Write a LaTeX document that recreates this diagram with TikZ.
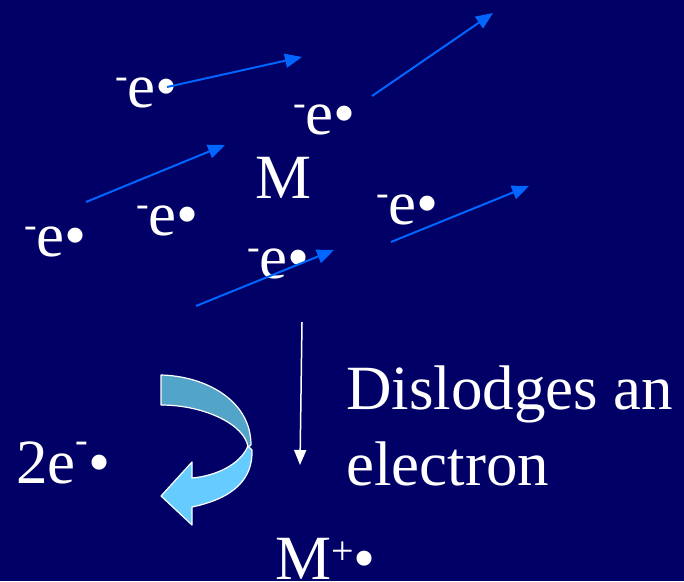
\documentclass[tikz,border=0pt]{standalone}
\usepackage{fontspec}
\setmainfont{Liberation Serif}
\usetikzlibrary{arrows.meta}
\definecolor{bg}{RGB}{0,0,102}
\definecolor{eblue}{RGB}{0,102,255}
\definecolor{ribbondark}{RGB}{82,165,200}
\definecolor{ribbonlight}{RGB}{102,204,255}
\newcommand{\eminus}{\raisebox{19pt}{\fontsize{38}{38}\selectfont -}}
\newcommand{\elabel}{\eminus e•}
\begin{document}
\begin{tikzpicture}[x=1pt,y=-1pt,
  lab/.style={text=white,inner sep=0pt,anchor=base west,font=\fontsize{63}{74}\selectfont},
  mover/.style={draw=eblue,line width=2pt,-{Triangle[length=17pt,width=14pt]}},
  downarrow/.style={draw=white,line width=1.5pt,-{Triangle[length=15pt,width=12pt]}},
  ribbon/.style={draw=white,line width=1.2pt,line join=round}]
\fill[bg] (0,0) rectangle (684,581);
\useasboundingbox (0,0) rectangle (684,581);
% labels
\node[lab] (e1) at (115,107) {\elabel};
\node[lab] (e2) at (293,134) {\elabel};
\node[lab] (M) at (255,198) {M};
\node[lab] (e3) at (24,256) {\elabel};
\node[lab] (e4) at (136,235) {\elabel};
\node[lab] (e5) at (376,224) {\elabel};
\node[lab] (e6) at (247,278) {\elabel};
\node[lab] (two) at (16,483) {2e\raisebox{31pt}{\fontsize{38}{38}\selectfont -}•};
\node[lab] (Mp) at (275,579) {M\raisebox{15pt}{\fontsize{40}{40}\selectfont +}•};
\node[lab] (dis) at (346,409) {Dislodges an};
\node[lab] (elec) at (346,485) {electron};
% electron paths
\coordinate (a1s) at (167,87);  \coordinate (a1e) at (302,57);
\coordinate (a2s) at (372,96);  \coordinate (a2e) at (493,13);
\coordinate (a3s) at (86,202);  \coordinate (a3e) at (225,145);
\coordinate (a4s) at (391,242); \coordinate (a4e) at (529,186);
\coordinate (a5s) at (196,306); \coordinate (a5e) at (334,250);
\draw[mover] (a1s) -- (a1e);
\draw[mover] (a2s) -- (a2e);
\draw[mover] (a3s) -- (a3e);
\draw[mover] (a4s) -- (a4e);
\draw[mover] (a5s) -- (a5e);
% down arrow
\coordinate (ws) at (302,322);
\coordinate (we) at (300,465);
\draw[downarrow] (ws) -- (we);
% curved ribbon arrow
\filldraw[ribbon,fill=ribbonlight] (248,446) .. controls (240,465) and (215,476) .. (192,478)
  -- (192,462) -- (161,496) -- (192,525) -- (192,507)
  .. controls (235,498) and (253,478) .. (252,450) -- cycle;
\filldraw[ribbon,fill=ribbondark] (161,375) .. controls (205,376) and (251,400) .. (251,445)
  -- (248,447) .. controls (245,425) and (205,405) .. (161,405) -- cycle;
\end{tikzpicture}
\end{document}
